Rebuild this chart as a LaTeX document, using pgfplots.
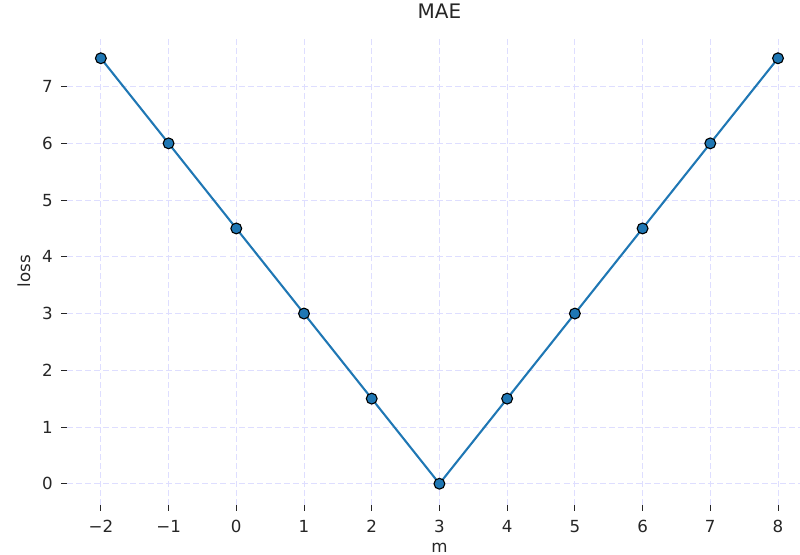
\documentclass[border=0pt]{standalone}
\usepackage{pgfplots}
\pgfplotsset{compat=1.18}
\usepackage{fontspec}
\setmainfont{DejaVu Sans}
\definecolor{lineblue}{RGB}{31,119,180}
\definecolor{gridblue}{RGB}{222,222,255}
\definecolor{txt}{RGB}{38,38,38}

\begin{document}
\begin{tikzpicture}
\begin{axis}[
  name=ax,
  scale only axis,
  width=527.76pt,
  height=336.96pt,
  xmin=-2.5, xmax=8.325,
  ymin=-0.375, ymax=7.875,
  xtick={-2,-1,0,1,2,3,4,5,6,7,8},
  xticklabels={−2,−1,0,1,2,3,4,5,6,7,8},
  ytick={0,1,2,3,4,5,6,7},
  yticklabels={0,1,2,3,4,5,6,7},
  xtick pos=bottom, ytick pos=left,
  tick align=outside,
  major tick length=4pt,
  tick style={txt, line width=0.7pt},
  axis line style={draw=none},
  grid=major,
  grid style={gridblue, line width=0.7pt, dash pattern=on 4.3pt off 2.2pt},
  ticklabel style={font=\fontsize{12}{14}\selectfont, text=txt, inner sep=0pt},
  xticklabel shift=6.8pt,
  yticklabel shift=6.1pt,
  title={MAE},
  title style={at={(0.508,1)}, anchor=base, yshift=7.2pt, font=\fontsize{14.4}{17}\selectfont, text=txt, inner sep=0pt},
  xlabel={m},
  xlabel style={at={(0.508,0)}, anchor=base, yshift=-34.4pt, font=\fontsize{12}{14}\selectfont, text=txt, inner sep=0pt},
  ylabel={loss},
  ylabel style={at={(0,0.5)}, anchor=base, yshift=26.6pt, font=\fontsize{12}{14}\selectfont, text=txt, inner sep=0pt},
]
\addplot[lineblue, line width=1.5pt, mark=*, mark size=3.9pt,
  mark options={fill=lineblue, draw=black, line width=0.8pt}]
  coordinates {
    (-2,7.5) (-1,6.0) (0,4.5) (1,3.0) (2,1.5) (3,0.0)
    (4,1.5) (5,3.0) (6,4.5) (7,6.0) (8,7.5)
  };
\end{axis}
\pgfresetboundingbox
\path[use as bounding box] ([shift={(-48.24pt,-36pt)}]ax.south west) rectangle ([shift={(0pt,26.64pt)}]ax.north east);
\end{tikzpicture}
\end{document}
